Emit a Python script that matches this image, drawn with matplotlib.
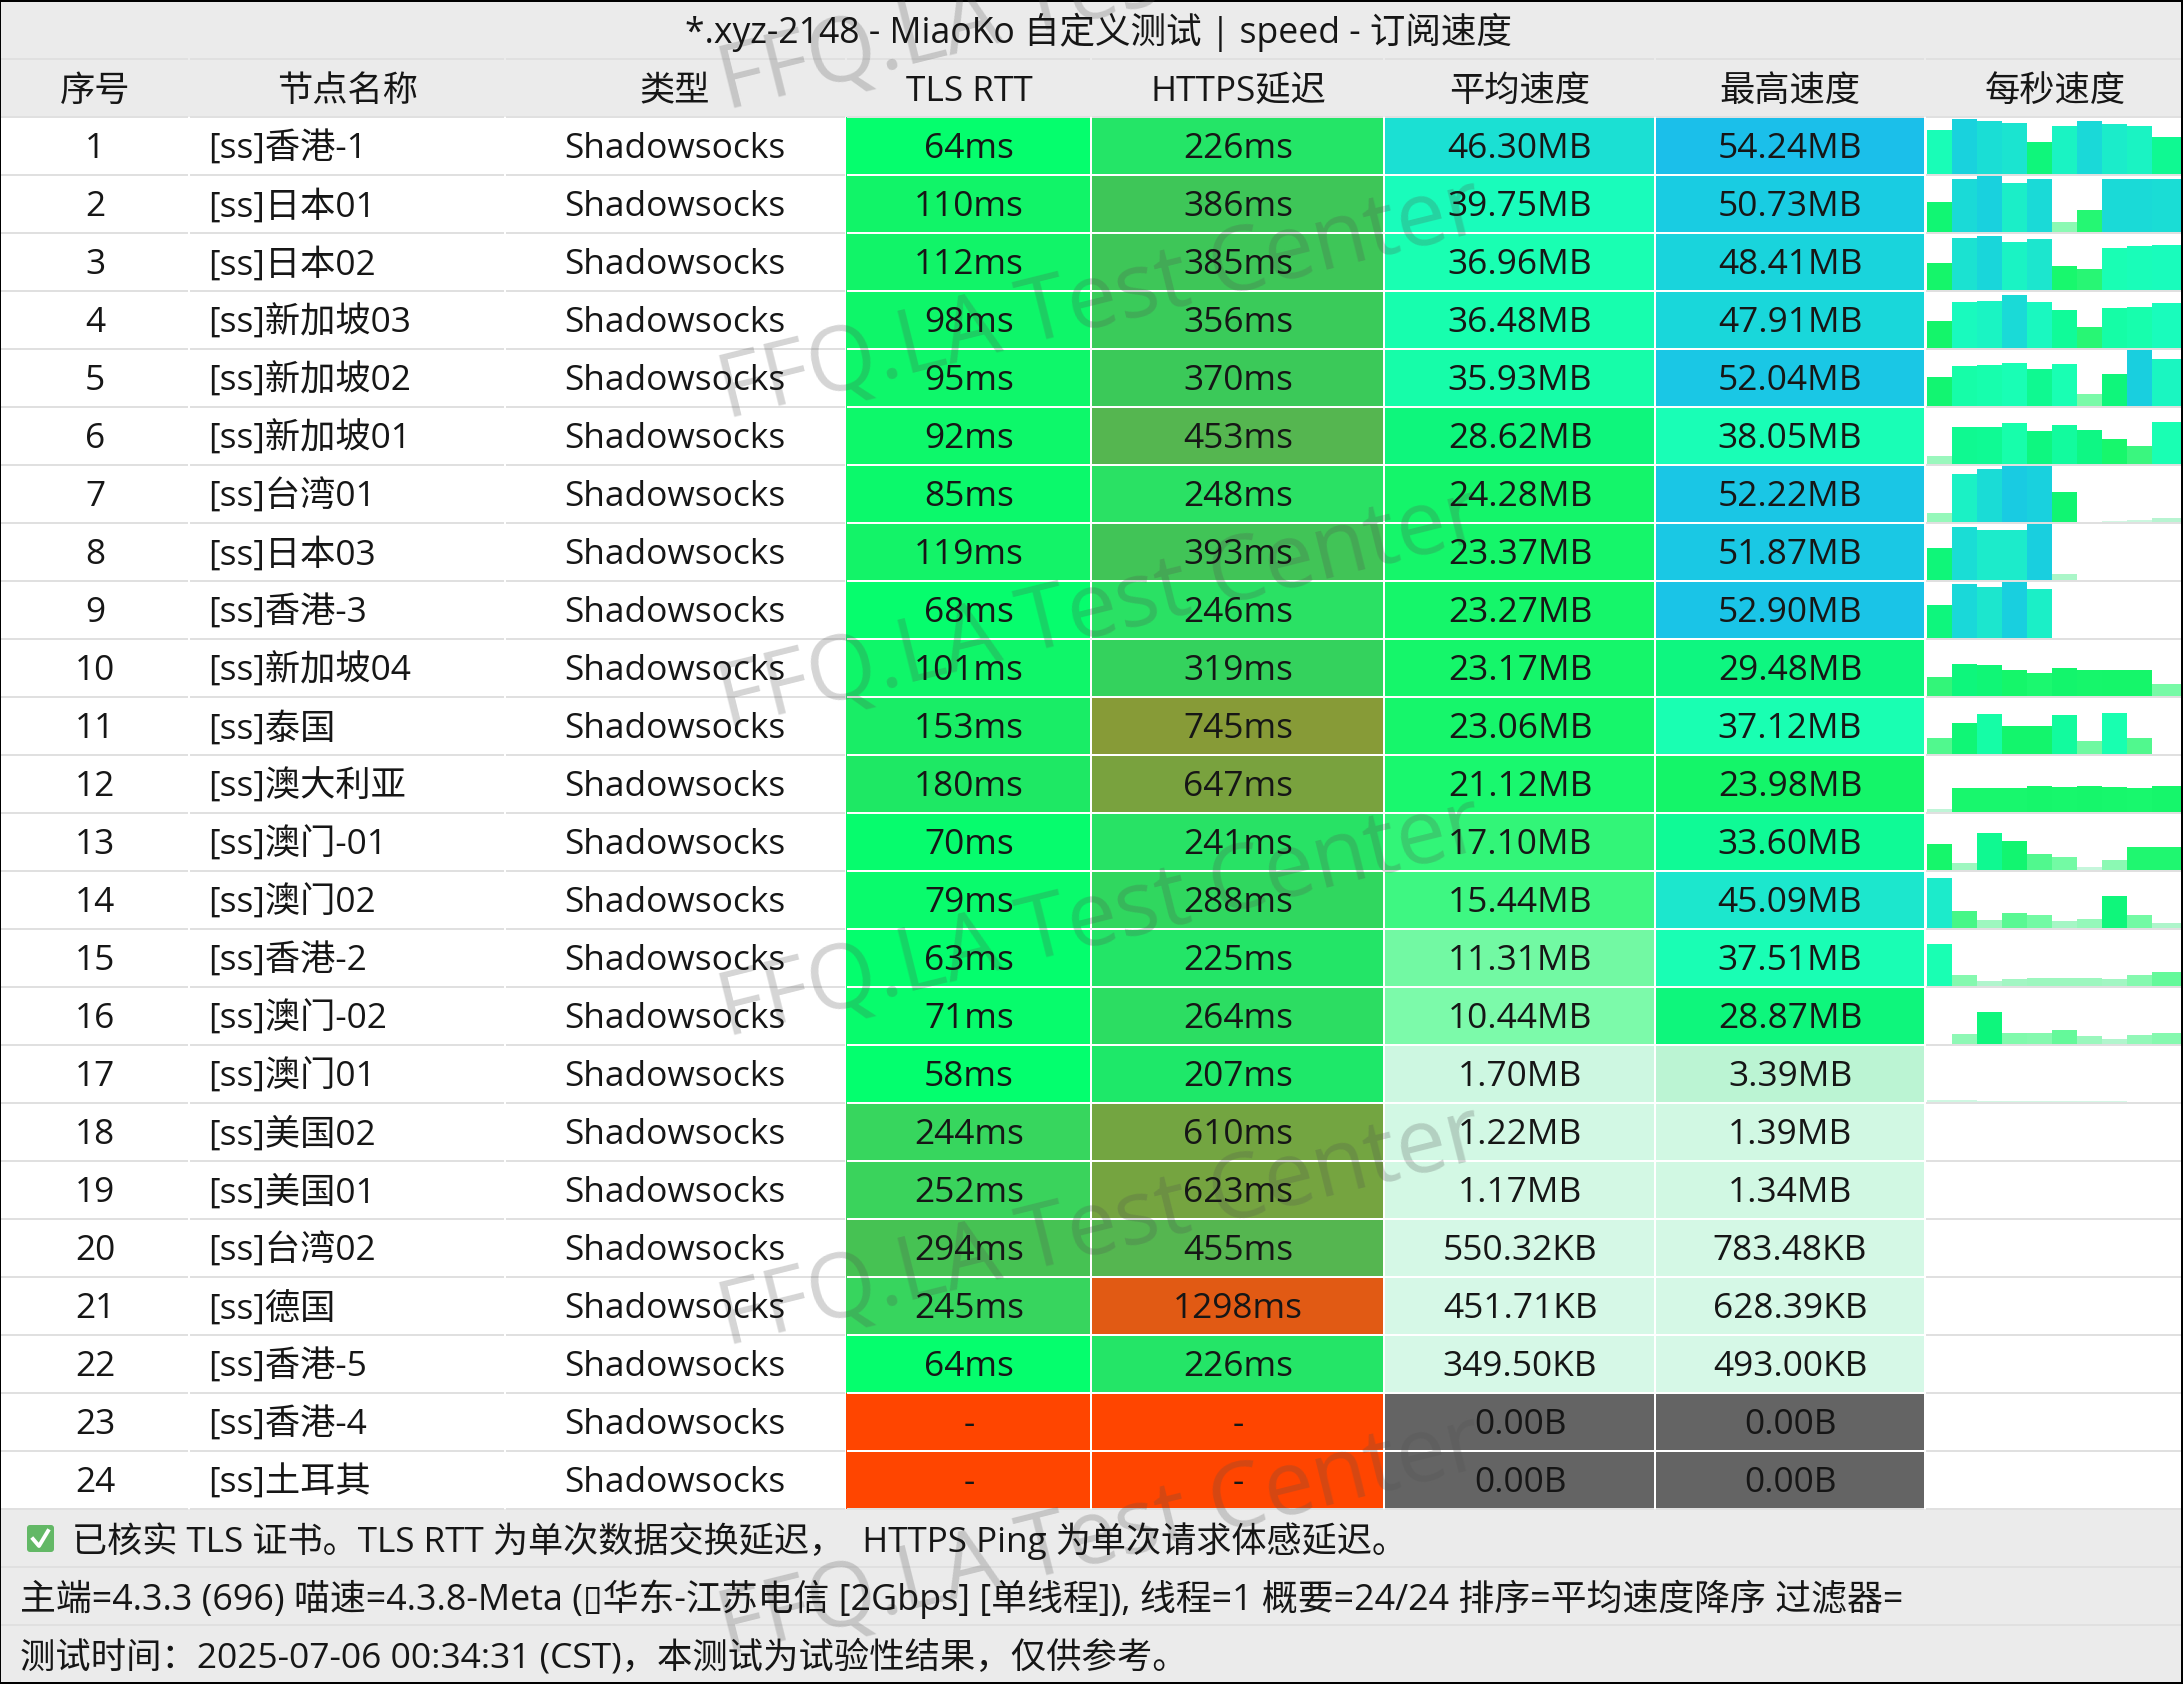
import matplotlib
matplotlib.use("Agg")
import matplotlib.pyplot as plt
from matplotlib.colors import LinearSegmentedColormap
from matplotlib.patches import FancyBboxPatch

plt.rcParams["font.family"] = ["Open Sans", "Noto Sans CJK SC", "DejaVu Sans"]

title = "*.xyz-2148 - MiaoKo 自定义测试 | speed - 订阅速度"
headers = ["序号", "节点名称", "类型", "TLS RTT", "HTTPS延迟", "平均速度", "最高速度", "每秒速度"]

names = ["[ss]香港-1", "[ss]日本01", "[ss]日本02", "[ss]新加坡03", "[ss]新加坡02", "[ss]新加坡01",
         "[ss]台湾01", "[ss]日本03", "[ss]香港-3", "[ss]新加坡04", "[ss]泰国", "[ss]澳大利亚",
         "[ss]澳门-01", "[ss]澳门02", "[ss]香港-2", "[ss]澳门-02", "[ss]澳门01", "[ss]美国02",
         "[ss]美国01", "[ss]台湾02", "[ss]德国", "[ss]香港-5", "[ss]香港-4", "[ss]土耳其"]
node_type = "Shadowsocks"
tls_rtt = [64, 110, 112, 98, 95, 92, 85, 119, 68, 101, 153, 180, 70, 79, 63, 71, 58, 244, 252, 294, 245, 64, None, None]
https_ping = [226, 386, 385, 356, 370, 453, 248, 393, 246, 319, 745, 647, 241, 288, 225, 264, 207, 610, 623, 455, 1298, 226, None, None]
avg_speed = ["46.30MB", "39.75MB", "36.96MB", "36.48MB", "35.93MB", "28.62MB", "24.28MB", "23.37MB",
             "23.27MB", "23.17MB", "23.06MB", "21.12MB", "17.10MB", "15.44MB", "11.31MB", "10.44MB",
             "1.70MB", "1.22MB", "1.17MB", "550.32KB", "451.71KB", "349.50KB", "0.00B", "0.00B"]
max_speed = ["54.24MB", "50.73MB", "48.41MB", "47.91MB", "52.04MB", "38.05MB", "52.22MB", "51.87MB",
             "52.90MB", "29.48MB", "37.12MB", "23.98MB", "33.60MB", "45.09MB", "37.51MB", "28.87MB",
             "3.39MB", "1.39MB", "1.34MB", "783.48KB", "628.39KB", "493.00KB", "0.00B", "0.00B"]

# per second speed in MB
per_second = [
    [40.7, 51.5, 49.1, 48.1, 29.9, 44.4, 50.0, 46.3, 44.4, 34.6],
    [28.0, 49.8, 52.0, 45.8, 49.8, 9.3, 20.2, 49.8, 49.8, 49.2],
    [24.9, 48.3, 50.5, 44.5, 47.7, 22.4, 19.6, 39.6, 41.1, 42.1],
    [25.5, 42.7, 44.2, 49.8, 43.3, 35.8, 19.6, 37.4, 38.3, 42.1],
    [27.4, 37.7, 38.3, 39.9, 34.3, 39.3, 11.2, 29.9, 52.3, 43.6],
    [7.5, 34.3, 34.9, 38.0, 31.2, 36.4, 31.8, 23.4, 16.8, 39.3],
    [8.1, 44.9, 49.5, 53.6, 52.0, 27.7, 0, 1.2, 2.0, 4.0],
    [29.6, 49.2, 46.7, 46.7, 52.3, 5.6, 0, 0, 0, 0],
    [30.5, 50.2, 47.7, 52.3, 45.5, 0, 0, 0, 0, 0],
    [17.8, 30.2, 28.7, 24.6, 21.8, 26.2, 24.0, 24.6, 24.6, 11.5],
    [14.6, 28.7, 37.4, 26.2, 26.2, 36.4, 12.1, 38.6, 14.6, 0],
    [3.1, 22.7, 22.7, 22.7, 24.0, 23.4, 24.0, 23.4, 22.4, 24.0],
    [24.3, 6.9, 34.3, 27.1, 14.6, 11.8, 2.5, 9.3, 21.2, 21.2],
    [46.7, 15.6, 7.2, 14.0, 11.8, 6.2, 8.1, 29.9, 11.8, 5.0],
    [39.3, 10.0, 4.7, 6.5, 7.2, 7.2, 7.2, 6.5, 10.0, 13.1],
    [0, 9.0, 30.2, 10.6, 10.0, 13.1, 7.5, 4.7, 8.4, 10.0],
    [1.6, 1.6, 1.2, 1.0, 0.8, 0.6, 0.5, 0.5, 0.3, 0],
    [0] * 10, [0] * 10, [0] * 10, [0] * 10, [0] * 10, [0] * 10, [0] * 10,
]

footer_1 = "已核实 TLS 证书。TLS RTT 为单次数据交换延迟，  HTTPS Ping 为单次请求体感延迟。"
footer_2 = "主端=4.3.3 (696) 喵速=4.3.8-Meta (▯华东-江苏电信 [2Gbps] [单线程]), 线程=1 概要=24/24 排序=平均速度降序 过滤器="
footer_3 = "测试时间：2025-07-06 00:34:31 (CST)，本测试为试验性结果，仅供参考。"
watermark = "FFQ.LA Test Center"

# layout, in pixels of the output
W, H = 2183, 1684
col_edges = [0, 189, 505, 846, 1091, 1384, 1655, 1925, W]
col_centers = [95, 348, 675, 969, 1238, 1520, 1790, 2055]
row_h = 58
title_top = 3
header_top = 59
table_top = 117
table_bottom = table_top + row_h * 24
bar_x = [1927, 1952, 1977, 2002, 2027, 2052, 2077, 2102, 2127, 2152]
bar_w = [25, 25, 25, 25, 25, 25, 25, 25, 25, 31]
px_per_mb = 1.07
bar_color_scale = 0.95  # bar colours read a bit lower than the heights
fs = 25.4
txt = "#161616"
panel = "#ebebeb"
grid = "#e0e0e0"


def rgb(r, g, b):
    return (r / 255, g / 255, b / 255)


def make_cmap(name, stops):
    top = stops[-1][0]
    return LinearSegmentedColormap.from_list(name, [(v / top, rgb(*c)) for v, c in stops], N=512), top


speed_cmap, speed_top = make_cmap("speed", [
    (0, (216, 248, 232)), (1.2, (210, 248, 228)), (3.4, (186, 244, 211)), (10.4, (125, 250, 170)),
    (15.4, (62, 247, 130)), (17.1, (50, 245, 120)), (21, (25, 248, 110)), (24, (20, 245, 105)),
    (29, (14, 246, 125)), (33.6, (15, 250, 150)), (37, (25, 255, 178)), (40, (25, 252, 188)),
    (45, (28, 232, 205)), (48.4, (25, 212, 220)), (51, (25, 203, 226)), (55, (28, 188, 236))])
tls_cmap, tls_top = make_cmap("tls", [
    (0, (3, 255, 110)), (58, (3, 255, 110)), (100, (15, 246, 105)), (180, (30, 232, 100)),
    (244, (55, 214, 94)), (300, (72, 192, 82))])
https_cmap, https_top = make_cmap("https", [
    (0, (30, 235, 105)), (207, (30, 232, 105)), (248, (42, 225, 100)), (288, (48, 215, 95)),
    (386, (62, 198, 88)), (453, (85, 182, 80)), (610, (115, 165, 65)), (745, (135, 155, 55)),
    (1298, (225, 90, 20))])


def to_mb(label):
    if label.endswith("KB"):
        return float(label[:-2]) / 1024
    if label.endswith("MB"):
        return float(label[:-2])
    return 0.0


def speed_color(mb):
    if mb == 0:
        return "#646464"
    return speed_cmap(min(mb, speed_top) / speed_top)


def delay_color(ms, cmap, top):
    if ms is None:
        return "#ff4500"
    return cmap(min(ms, top) / top)


fig = plt.figure(figsize=(W / 100, H / 100), dpi=100)
ax = fig.add_axes([0, 0, 1, 1])
ax.set_xlim(0, W)
ax.set_ylim(H, 0)
ax.set_xticks([])
ax.set_yticks([])
for side, lw in [("top", 4), ("bottom", 4), ("left", 2), ("right", 4)]:
    ax.spines[side].set_linewidth(lw * 0.72)
    ax.spines[side].set_color("black")

# grey panels
ax.bar(0, table_top, width=W, bottom=0, align="edge", color=panel, linewidth=0, zorder=0)
ax.bar(0, H - table_bottom, width=W, bottom=table_bottom, align="edge", color=panel, linewidth=0, zorder=0)

# coloured columns
for i in range(24):
    y = table_top + i * row_h
    ax.bar(col_edges[3], row_h, width=col_edges[4] - col_edges[3], bottom=y, align="edge",
           color=delay_color(tls_rtt[i], tls_cmap, tls_top), linewidth=0, zorder=1)
    ax.bar(col_edges[4], row_h, width=col_edges[5] - col_edges[4], bottom=y, align="edge",
           color=delay_color(https_ping[i], https_cmap, https_top), linewidth=0, zorder=1)
    ax.bar(col_edges[5], row_h, width=col_edges[6] - col_edges[5], bottom=y, align="edge",
           color=speed_color(to_mb(avg_speed[i])), linewidth=0, zorder=1)
    ax.bar(col_edges[6], row_h, width=col_edges[7] - col_edges[6], bottom=y, align="edge",
           color=speed_color(to_mb(max_speed[i])), linewidth=0, zorder=1)
    # per second bars
    heights = [-v * px_per_mb for v in per_second[i]]
    cols = [speed_color(v * bar_color_scale) for v in per_second[i]]
    ax.bar(bar_x, heights, width=bar_w, bottom=y + row_h - 1, align="edge", color=cols, linewidth=0, zorder=1)

# row separators, grey on white columns and white on coloured ones
lw = 2 * 0.72
for i in range(0, 25):
    y = table_top + i * row_h
    for c in range(8):
        color = "white" if (3 <= c <= 6 and 0 < i < 24) else grid
        ax.hlines(y, col_edges[c] + 1, col_edges[c + 1] - 1, color=color, linewidth=lw, zorder=2)
for c in range(8):
    ax.hlines(header_top, col_edges[c] + 1, col_edges[c + 1] - 1, color=grid, linewidth=lw, zorder=2)
for y in [table_bottom + row_h, table_bottom + 2 * row_h]:
    ax.hlines(y, 0, W, color=grid, linewidth=lw, zorder=2)
ax.vlines(col_edges[4:8], table_top, table_bottom, color="white", linewidth=lw, zorder=2)

# watermark
for y in [110, 419, 728, 1037, 1346, 1655]:
    ax.text(726, y, watermark, fontsize=64, color="#505050", alpha=0.24, rotation=14,
            rotation_mode="anchor", ha="left", va="baseline", zorder=3, clip_on=True)

# text
ax.text(1098, 28, title, fontsize=25.6, color=txt, ha="center", va="center_baseline", zorder=4)
for cx, label in zip(col_centers, headers):
    ax.text(cx, 88, label, fontsize=fs, color=txt, ha="center", va="center_baseline", zorder=4)

for i in range(24):
    y = table_top + i * row_h + 28
    ax.text(col_centers[0], y, str(i + 1), fontsize=fs, color=txt, ha="center", va="center_baseline", zorder=4)
    ax.text(208, y, names[i], fontsize=fs, color=txt, ha="left", va="center_baseline", zorder=4)
    ax.text(col_centers[2], y, node_type, fontsize=fs, color=txt, ha="center", va="center_baseline", zorder=4)
    tls_label = "-" if tls_rtt[i] is None else str(tls_rtt[i]) + "ms"
    https_label = "-" if https_ping[i] is None else str(https_ping[i]) + "ms"
    ax.text(col_centers[3], y, tls_label, fontsize=fs, color=txt, ha="center", va="center_baseline", zorder=4)
    ax.text(col_centers[4], y, https_label, fontsize=fs, color=txt, ha="center", va="center_baseline", zorder=4)
    ax.text(col_centers[5], y, avg_speed[i], fontsize=fs, color=txt, ha="center", va="center_baseline", zorder=4)
    ax.text(col_centers[6], y, max_speed[i], fontsize=fs, color=txt, ha="center", va="center_baseline", zorder=4)

# footer
ax.add_patch(FancyBboxPatch((27, 1525), 27, 27, boxstyle="round,pad=0,rounding_size=3",
                            facecolor="#63b866", edgecolor="none", zorder=4))
ax.plot([33, 39, 48], [1539, 1546, 1531], color="white", linewidth=2.8, zorder=5)
ax.text(72, table_bottom + 28, footer_1, fontsize=25.3, color=txt, ha="left", va="center_baseline", zorder=4)
ax.text(20, table_bottom + 86, footer_2, fontsize=25.85, color=txt, ha="left", va="center_baseline", zorder=4)
ax.text(20, table_bottom + 145, footer_3, fontsize=25.45, color=txt, ha="left", va="center_baseline", zorder=4)

fig.savefig("out.png", dpi=100)
